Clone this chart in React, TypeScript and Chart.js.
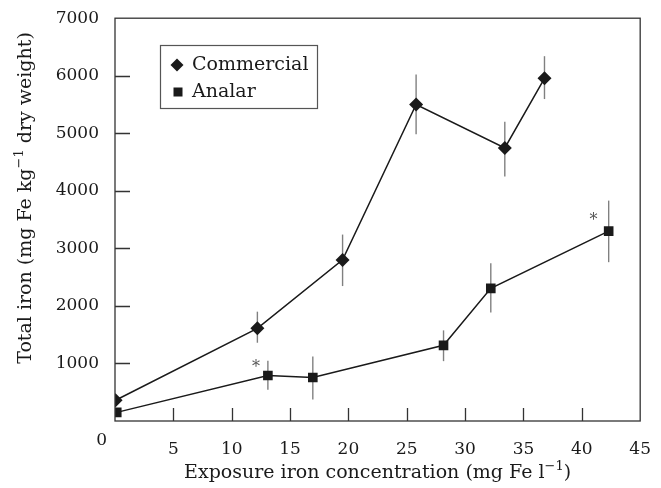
import React, { useEffect, useRef } from 'react';
import { Chart, registerables } from 'chart.js';

Chart.register(...registerables);

// ---- data ----
const seriesNames = ['Commercial', 'Analar'];
const commercialX = [0.05, 12.2, 19.5, 25.8, 33.4, 36.8];
const commercialY = [360, 1610, 2800, 5500, 4745, 5955];
const commercialLo = [360, 1360, 2345, 4985, 4250, 5595];
const commercialHi = [360, 1900, 3240, 6020, 5200, 6340];
const analarX = [0.15, 13.1, 16.95, 28.15, 32.2, 42.3];
const analarY = [150, 790, 755, 1315, 2305, 3300];
const analarLo = [150, 545, 375, 1040, 1885, 2760];
const analarHi = [150, 1045, 1120, 1575, 2740, 3830];
const xTickValues = [0, 5, 10, 15, 20, 25, 30, 35, 40, 45];
const yTickValues = [0, 1000, 2000, 3000, 4000, 5000, 6000, 7000];
const asteriskX = [12.08, 41.0];
const asteriskY = [970, 3530];
const xTitleParts = [
  { t: 'Exposure iron concentration (mg Fe l' },
  { t: '\u22121', sup: true },
  { t: ')' },
];
const yTitleParts = [
  { t: 'Total iron (mg Fe kg' },
  { t: '\u22121', sup: true },
  { t: ' dry weight)' },
];

const FONT = '"DejaVu Serif", serif';
const TICKFS = 17;
const FS = 19;
const SUPFS = 13;
const INK = '#1a1a1a';

function richWidth(ctx: CanvasRenderingContext2D, parts: { t: string; sup?: boolean }[]) {
  let w = 0;
  for (const p of parts) {
    ctx.font = `${p.sup ? SUPFS : FS}px ${FONT}`;
    w += ctx.measureText(p.t).width;
  }
  return w;
}

function drawRich(ctx: CanvasRenderingContext2D, parts: { t: string; sup?: boolean }[], x0: number, baseline: number) {
  let x = x0;
  ctx.textAlign = 'left';
  ctx.textBaseline = 'alphabetic';
  for (const p of parts) {
    ctx.font = `${p.sup ? SUPFS : FS}px ${FONT}`;
    ctx.fillText(p.t, x, p.sup ? baseline - 8 : baseline);
    x += ctx.measureText(p.t).width;
  }
}

const errorBarPlugin = {
  id: 'errorBars',
  beforeDatasetsDraw(chart: any) {
    const { ctx, scales } = chart;
    const xs = scales.x;
    const ys = scales.y;
    const sets = [
      { x: commercialX, lo: commercialLo, hi: commercialHi },
      { x: analarX, lo: analarLo, hi: analarHi },
    ];
    ctx.save();
    ctx.strokeStyle = '#808080';
    ctx.lineWidth = 1.4;
    for (const s of sets) {
      s.x.forEach((xv, i) => {
        if (s.hi[i] === s.lo[i]) return;
        const px = xs.getPixelForValue(xv);
        ctx.beginPath();
        ctx.moveTo(px, ys.getPixelForValue(s.lo[i]));
        ctx.lineTo(px, ys.getPixelForValue(s.hi[i]));
        ctx.stroke();
      });
    }
    ctx.restore();
  },
};

const decorPlugin = {
  id: 'decor',
  afterDraw(chart: any) {
    const { ctx, chartArea, scales } = chart;
    const { left, right, top, bottom } = chartArea;
    const xs = scales.x;
    const ys = scales.y;
    ctx.save();
    // frame
    ctx.strokeStyle = '#333';
    ctx.lineWidth = 1.3;
    ctx.strokeRect(left, top, right - left, bottom - top);
    // inward ticks
    ctx.beginPath();
    xTickValues.forEach((v) => {
      if (v === xTickValues[0] || v === xTickValues[xTickValues.length - 1]) return;
      const px = Math.round(xs.getPixelForValue(v)) + 0.5;
      ctx.moveTo(px, bottom);
      ctx.lineTo(px, bottom - 13);
    });
    yTickValues.forEach((v) => {
      if (v === yTickValues[0] || v === yTickValues[yTickValues.length - 1]) return;
      const py = Math.round(ys.getPixelForValue(v)) + 0.5;
      ctx.moveTo(left, py);
      ctx.lineTo(left + 15, py);
    });
    ctx.stroke();

    // corner "0" label
    ctx.fillStyle = INK;
    ctx.font = `${TICKFS}px ${FONT}`;
    ctx.textAlign = 'right';
    ctx.textBaseline = 'middle';
    ctx.fillText(String(xTickValues[0]), left - 8, bottom + 20);

    // asterisks
    ctx.fillStyle = '#555';
    ctx.font = `16px ${FONT}`;
    ctx.textAlign = 'center';
    ctx.textBaseline = 'middle';
    asteriskX.forEach((xv, i) => {
      ctx.fillText('*', xs.getPixelForValue(xv), ys.getPixelForValue(asteriskY[i]) + 3);
    });

    // legend
    const lx = 160, ly = 45, lw = 157, lh = 63;
    ctx.strokeStyle = '#555';
    ctx.lineWidth = 1.2;
    ctx.strokeRect(lx + 0.5, ly + 0.5, lw, lh);
    ctx.fillStyle = INK;
    const dx = 177, dy = 65, r = 6.5;
    ctx.beginPath();
    ctx.moveTo(dx, dy - r);
    ctx.lineTo(dx + r, dy);
    ctx.lineTo(dx, dy + r);
    ctx.lineTo(dx - r, dy);
    ctx.closePath();
    ctx.fill();
    ctx.fillRect(178 - 4.5, 92 - 4.5, 9, 9);
    ctx.font = `${FS}px ${FONT}`;
    ctx.textAlign = 'left';
    ctx.textBaseline = 'middle';
    ctx.fillText(seriesNames[0], 192, 65);
    ctx.fillText(seriesNames[1], 192, 92);

    // x title
    ctx.fillStyle = INK;
    const xw = richWidth(ctx, xTitleParts);
    drawRich(ctx, xTitleParts, (left + right) / 2 - xw / 2, 478);

    // y title
    const yw = richWidth(ctx, yTitleParts);
    ctx.save();
    ctx.translate(31, 198);
    ctx.rotate(-Math.PI / 2);
    drawRich(ctx, yTitleParts, -yw / 2, 0);
    ctx.restore();

    ctx.restore();
  },
};

export default function App() {
  const ref = useRef<HTMLCanvasElement | null>(null);
  useEffect(() => {
    if (!ref.current) return;
    const chart = new Chart(ref.current, {
      type: 'scatter',
      data: {
        datasets: [
          {
            label: seriesNames[0],
            data: commercialX.map((x, i) => ({ x, y: commercialY[i] })),
            showLine: true,
            borderColor: INK,
            backgroundColor: INK,
            borderWidth: 1.5,
            pointStyle: 'rectRot',
            pointRadius: 7,
            pointBorderWidth: 0,
            pointBackgroundColor: INK,
            tension: 0,
          },
          {
            label: seriesNames[1],
            data: analarX.map((x, i) => ({ x, y: analarY[i] })),
            showLine: true,
            borderColor: INK,
            backgroundColor: INK,
            borderWidth: 1.5,
            pointStyle: 'rect',
            pointRadius: 6.8,
            pointBorderWidth: 0,
            pointBackgroundColor: INK,
            tension: 0,
          },
        ],
      },
      options: {
        animation: false,
        responsive: false,
        layout: { padding: { left: 0, right: 13, top: 13, bottom: 0 } },
        plugins: { legend: { display: false }, tooltip: { enabled: false } },
        scales: {
          x: {
            type: 'linear',
            min: 0,
            max: 45,
            afterBuildTicks: (s: any) => {
              s.ticks = xTickValues.map((v) => ({ value: v }));
            },
            ticks: {
              callback: (v: any) => (v === 0 ? '' : String(v)),
              font: { family: FONT, size: TICKFS },
              color: INK,
              padding: 10,
              maxRotation: 0,
            },
            grid: { display: false },
            border: { display: false },
            afterFit: (s: any) => {
              s.height = 67;
            },
          },
          y: {
            type: 'linear',
            min: 0,
            max: 7000,
            afterBuildTicks: (s: any) => {
              s.ticks = yTickValues.map((v) => ({ value: v }));
            },
            ticks: {
              callback: (v: any) => (v === 0 ? '' : String(v)),
              font: { family: FONT, size: TICKFS },
              color: INK,
              padding: 8,
            },
            grid: { display: false },
            border: { display: false },
            afterFit: (s: any) => {
              s.width = 115;
            },
          },
        },
      },
      plugins: [errorBarPlugin, decorPlugin],
    });
    return () => chart.destroy();
  }, []);
  return (
    <div style={{ position: 'absolute', left: 0, top: 0, width: 661, height: 488, background: '#fff' }}>
      <canvas ref={ref} width={661} height={488} style={{ display: 'block' }} />
    </div>
  );
}
